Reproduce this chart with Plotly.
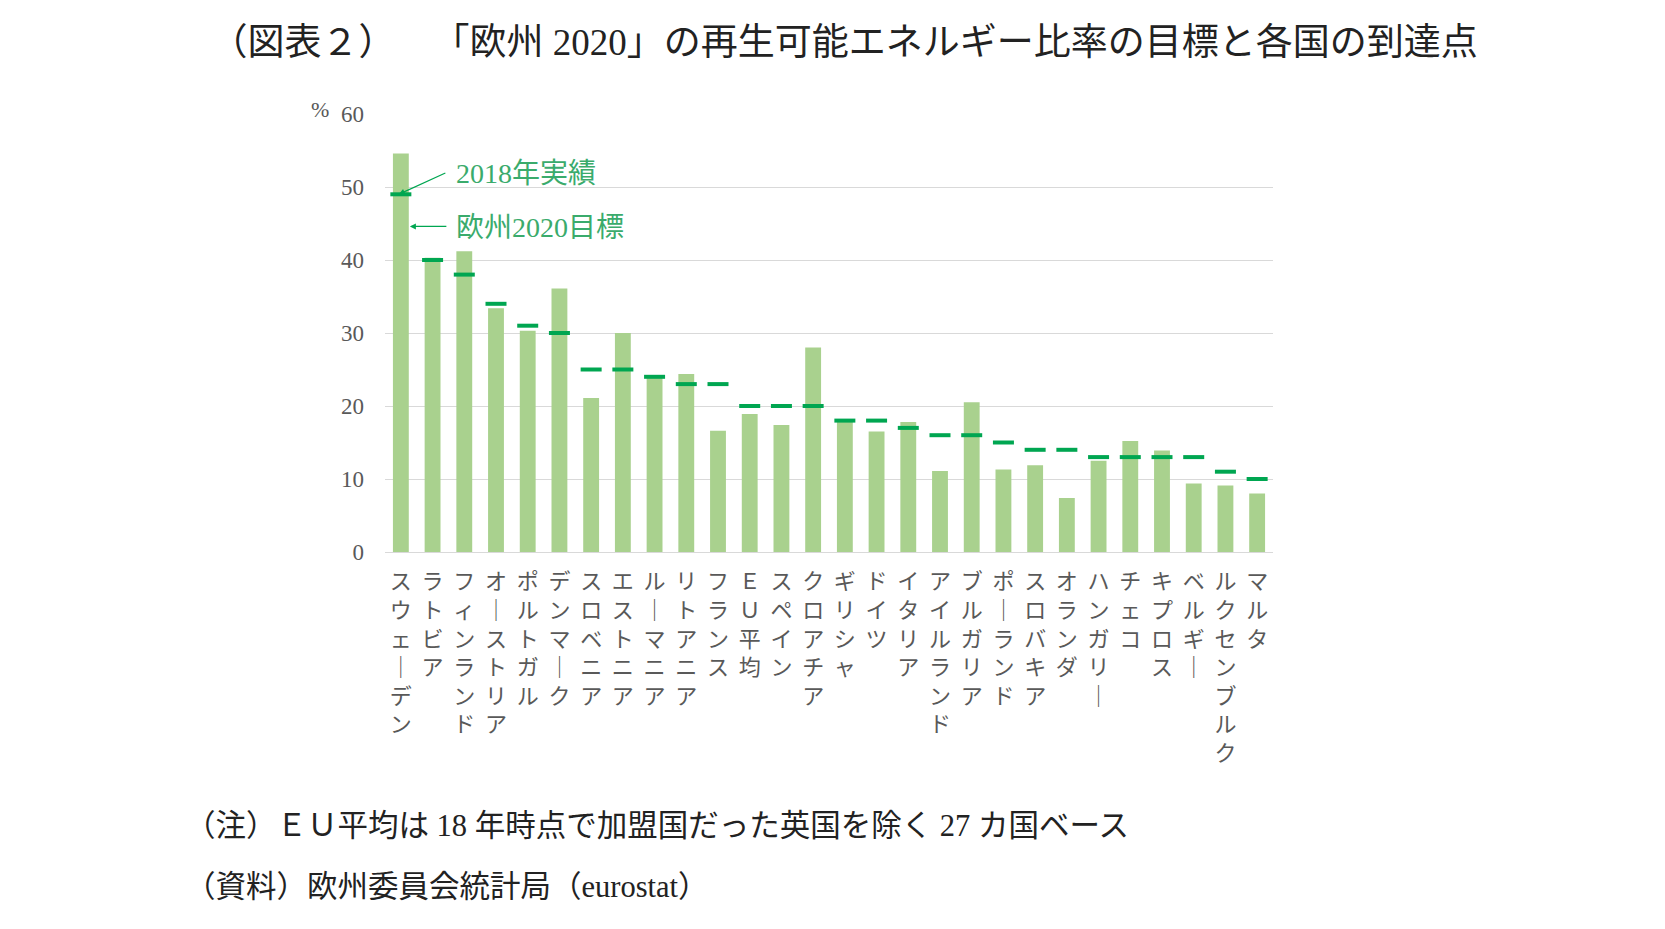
import plotly.graph_objects as go

# 2018 actual share of renewables (%) and the EU 2020 target, by country
countries = ['スウェーデン', 'ラトビア', 'フィンランド', 'オーストリア', 'ポルトガル', 'デンマーク',
             'スロベニア', 'エストニア', 'ルーマニア', 'リトアニア', 'フランス', 'ＥＵ平均',
             'スペイン', 'クロアチア', 'ギリシャ', 'ドイツ', 'イタリア', 'アイルランド',
             'ブルガリア', 'ポーランド', 'スロバキア', 'オランダ', 'ハンガリー', 'チェコ',
             'キプロス', 'ベルギー', 'ルクセンブルク', 'マルタ']
actual_2018 = [54.6, 40.3, 41.2, 33.4, 30.3, 36.1, 21.1, 30.0, 23.9, 24.4, 16.6, 18.9,
               17.4, 28.0, 18.0, 16.5, 17.8, 11.1, 20.5, 11.3, 11.9, 7.4, 12.5, 15.2,
               13.9, 9.4, 9.1, 8.0]
target_2020 = [49, 40, 38, 34, 31, 30, 25, 25, 24, 23, 23, 20, 20, 20, 18, 18, 17, 16,
               16, 15, 14, 14, 13, 13, 13, 13, 11, 10]
y_ticks = [0, 10, 20, 30, 40, 50, 60]

# labels are written top-to-bottom, one character per line
vertical_labels = ['<br>'.join(name.replace('ー', '｜')) for name in countries]

FONT = 'Liberation Serif, Noto Sans CJK JP, serif'
GREEN = '#00A651'
TEXT_GREEN = '#3AAB6C'

fig = go.Figure()
fig.add_trace(go.Bar(x=countries, y=actual_2018, marker_color='#A9D18E',
                     marker_line_width=0, width=0.5, name='2018年実績'))
fig.add_trace(go.Scatter(x=countries, y=target_2020, mode='markers', name='欧州2020目標',
                         marker=dict(symbol='line-ew', size=15,
                                     line=dict(width=4, color=GREEN))))

# arrows (drawn as the reference does)
fig.add_annotation(x=countries[0], y=target_2020[0], text='', showarrow=True,
                   ax=48, ay=-22, arrowhead=2, arrowsize=1, arrowwidth=1.2,
                   arrowcolor=GREEN, xshift=-2)
fig.add_annotation(x=countries[0], y=44.6, text='', showarrow=True,
                   ax=38, ay=0, arrowhead=2, arrowsize=1, arrowwidth=1.2,
                   arrowcolor=GREEN, xshift=9)
fig.add_annotation(x=countries[0], y=51.9, text='2018年実績', showarrow=False,
                   xanchor='left', xshift=53, font=dict(size=28, color=TEXT_GREEN))
fig.add_annotation(x=countries[0], y=44.4, text='欧州2020目標', showarrow=False,
                   xanchor='left', xshift=53, font=dict(size=28, color=TEXT_GREEN))

fig.add_annotation(xref='paper', yref='paper', x=-0.073, y=1.01, text='%',
                   showarrow=False, xanchor='center', yanchor='middle',
                   font=dict(size=22, color='#595959'))

# notes below the chart
fig.add_annotation(xref='paper', yref='paper', x=-0.228, y=-0.625, xanchor='left',
                   yanchor='middle', showarrow=False,
                   text='（注）ＥＵ平均は 18 年時点で加盟国だった英国を除く 27 カ国ベース',
                   font=dict(size=30.5, color='#222222'))
fig.add_annotation(xref='paper', yref='paper', x=-0.228, y=-0.764, xanchor='left',
                   yanchor='middle', showarrow=False,
                   text='（資料）欧州委員会統計局（eurostat）',
                   font=dict(size=30.5, color='#222222'))

fig.update_layout(
    width=1657, height=921,
    margin=dict(l=377, r=392, t=106, b=377),
    paper_bgcolor='white', plot_bgcolor='white',
    font=dict(family=FONT, color='#222222'),
    showlegend=False,
    title=dict(text='（図表２）　　「欧州 2020」の再生可能エネルギー比率の目標と各国の到達点',
               x=0.1222, xanchor='left', y=0.963, yanchor='middle',
               font=dict(size=37, color='#222222')),
)
fig.update_xaxes(range=[-0.5, len(countries) - 0.5],
                 tickvals=countries, ticktext=vertical_labels, tickangle=0,
                 showgrid=False, showline=True, linecolor='#D9D9D9', linewidth=1,
                 ticks='', ticklabelstandoff=10,
                 tickfont=dict(size=22, color='#595959'))
fig.update_yaxes(range=[0, 60], tickvals=y_ticks, showgrid=True, gridcolor='#D9D9D9',
                 zeroline=False, showline=False, ticks='', ticklabelstandoff=20,
                 tickfont=dict(size=23, color='#595959'))

fig.write_html('out.html')
